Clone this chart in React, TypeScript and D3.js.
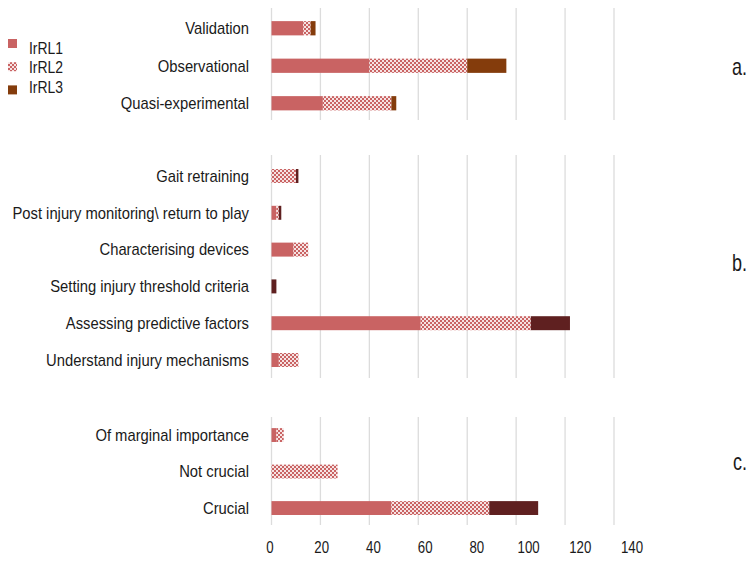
import { useEffect, useRef } from "react"
import * as d3 from "d3"

const seriesNames = ["IrRL1", "IrRL2", "IrRL3"]

const designs = ["Validation", "Observational", "Quasi-experimental"]
const designIrRL1 = [13, 40, 21]
const designIrRL2 = [3, 40, 28]
const designIrRL3 = [2, 16, 2]

const purposes = [
  "Gait retraining",
  "Post injury monitoring\\ return to play",
  "Characterising devices",
  "Setting injury threshold criteria",
  "Assessing predictive factors",
  "Understand injury mechanisms",
]
const purposeIrRL1 = [0, 2, 9, 0, 61, 3]
const purposeIrRL2 = [10, 1, 6, 0, 45, 8]
const purposeIrRL3 = [1, 1, 0, 2, 16, 0]

const importance = ["Of marginal importance", "Not crucial", "Crucial"]
const importanceIrRL1 = [2, 0, 49]
const importanceIrRL2 = [3, 27, 40]
const importanceIrRL3 = [0, 0, 20]

const xTicks = [0, 20, 40, 60, 80, 100, 120, 140]

export default function App() {
  const svgRef = useRef(null)

  useEffect(() => {
    if (!svgRef.current) return
    const svg = d3.select(svgRef.current)
    svg.selectAll("*").remove()

    const width = 752
    const height = 561
    const font = "'Liberation Sans', Arial, sans-serif"
    const ink = "#1a1a1a"
    const red = "#c96363"
    const brown = "#843c0c"
    const maroon = "#5f2020"

    // checker pattern for IrRL2
    const defs = svg.append("defs")
    const pat = defs
      .append("pattern")
      .attr("id", "checker")
      .attr("patternUnits", "userSpaceOnUse")
      .attr("width", 4)
      .attr("height", 4)
    pat.append("rect").attr("width", 4).attr("height", 4).attr("fill", "#f6e3e3")
    pat.append("rect").attr("width", 2).attr("height", 2).attr("fill", red)
    pat.append("rect").attr("x", 2).attr("y", 2).attr("width", 2).attr("height", 2).attr("fill", red)

    const x = d3.scaleLinear().domain([0, 140]).range([271.5, 614])
    // the tick labels in the picture sit a little wider than the gridlines
    const xLabel = d3.scaleLinear().domain([0, 140]).range([270, 632])

    const panels = [
      { cats: designs, vals: [designIrRL1, designIrRL2, designIrRL3], top: 9.5, step: 37.5, g0: 8, g1: 120, last: brown, letter: "a.", ly: 67 },
      { cats: purposes, vals: [purposeIrRL1, purposeIrRL2, purposeIrRL3], top: 157.6, step: 36.8, g0: 155, g1: 378, last: maroon, letter: "b.", ly: 263 },
      { cats: importance, vals: [importanceIrRL1, importanceIrRL2, importanceIrRL3], top: 416.8, step: 36.5, g0: 417, g1: 525, last: maroon, letter: "c.", ly: 462 },
    ]

    panels.forEach((p) => {
      const rows = p.cats.map((c, i) => ({
        cat: c,
        IrRL1: p.vals[0][i],
        IrRL2: p.vals[1][i],
        IrRL3: p.vals[2][i],
      }))
      const y = d3
        .scaleBand()
        .domain(p.cats)
        .range([p.top, p.top + p.cats.length * p.step])
        .paddingInner(0.62)
        .paddingOuter(0.31)

      // gridlines
      svg
        .append("g")
        .selectAll("line")
        .data(xTicks)
        .enter()
        .append("line")
        .attr("x1", (d) => x(d))
        .attr("x2", (d) => x(d))
        .attr("y1", p.g0)
        .attr("y2", p.g1)
        .attr("stroke", "#dcdcdc")
        .attr("stroke-width", 1.3)

      const stacked = d3.stack().keys(seriesNames)(rows)
      const fills = [red, "url(#checker)", p.last]

      stacked.forEach((s, si) => {
        svg
          .append("g")
          .selectAll("rect")
          .data(s)
          .enter()
          .append("rect")
          .attr("x", (d) => x(d[0]))
          .attr("y", (d) => y(d.data.cat))
          .attr("width", (d) => x(d[1]) - x(d[0]))
          .attr("height", y.bandwidth())
          .attr("fill", fills[si])
      })

      // category labels (tall, narrow type as in the source picture)
      svg
        .append("g")
        .selectAll("text")
        .data(p.cats)
        .enter()
        .append("text")
        .attr("transform", (d) => `translate(249,${y(d) + y.bandwidth() / 2}) scale(0.87,1)`)
        .attr("text-anchor", "end")
        .attr("dominant-baseline", "central")
        .attr("font-family", font)
        .attr("font-size", "17px")
        .attr("fill", ink)
        .text((d) => d)

      svg
        .append("text")
        .attr("transform", `translate(747,${p.ly}) scale(0.75,1)`)
        .attr("text-anchor", "end")
        .attr("dominant-baseline", "central")
        .attr("font-family", font)
        .attr("font-size", "24px")
        .attr("fill", ink)
        .text(p.letter)
    })

    // x tick labels
    svg
      .append("g")
      .selectAll("text")
      .data(xTicks)
      .enter()
      .append("text")
      .attr("transform", (d) => `translate(${xLabel(d)},547) scale(0.78,1)`)
      .attr("text-anchor", "middle")
      .attr("dominant-baseline", "central")
      .attr("font-family", font)
      .attr("font-size", "17px")
      .attr("fill", ink)
      .text((d) => d)

    // legend
    const legend = svg.append("g")
    const legendFills = [red, "url(#checker)", brown]
    seriesNames.forEach((name, i) => {
      const sy = 43.5 + i * 23.2
      const ty = 47.5 + i * 19.6
      legend
        .append("rect")
        .attr("x", 8)
        .attr("y", sy - 4.5)
        .attr("width", 9)
        .attr("height", 9)
        .attr("fill", legendFills[i])
      legend
        .append("text")
        .attr("transform", `translate(29,${ty}) scale(0.82,1)`)
        .attr("dominant-baseline", "central")
        .attr("font-family", font)
        .attr("font-size", "17px")
        .attr("fill", ink)
        .text(name)
    })

    svg.attr("width", width).attr("height", height).attr("viewBox", [0, 0, width, height])
  }, [])

  return (
    <div style={{ position: "absolute", left: 0, top: 0, background: "white" }}>
      <svg ref={svgRef}></svg>
    </div>
  )
}
